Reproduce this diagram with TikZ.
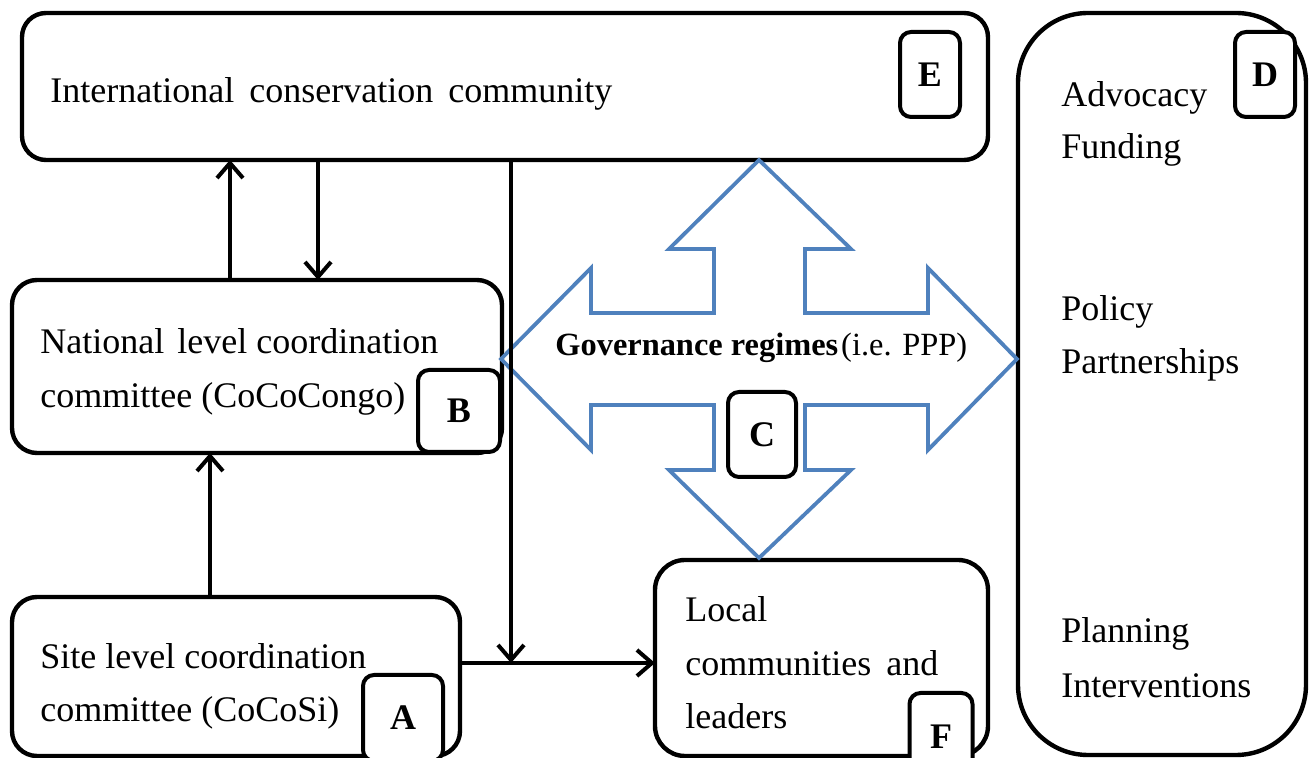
\documentclass[tikz,border=0pt]{standalone}
\usepackage{fontspec}
\setmainfont{Liberation Serif}
\usetikzlibrary{arrows.meta}
\definecolor{govblue}{HTML}{4F81BD}
\begin{document}
\begin{tikzpicture}[x=0.5pt,y=-0.5pt,
  box/.style={draw=black, line width=2.2pt, fill=white, inner sep=0pt, outer sep=0pt},
  tag/.style={draw=black, line width=2pt, fill=white, rounded corners=5.5pt, inner sep=0pt, outer sep=0pt,
    font=\fontsize{18}{20}\selectfont\bfseries, text depth=0pt},
  txt/.style={anchor=base west, inner sep=0pt, font=\fontsize{18}{27}\selectfont},
  conn/.style={line width=2pt, -{Straight Barb[length=7.5pt,width=13pt]}},
  govarrow/.style={draw=govblue, line width=1.9pt, line join=miter}]
\useasboundingbox (0,0) rectangle (1314,758);
\clip (0,0) rectangle (1314,758);

% main boxes
\node[box, rounded corners=12pt, minimum width=483pt, minimum height=73.5pt] (E) at (505,86.5) {};
\node[box, rounded corners=35pt, minimum width=144pt, minimum height=371pt] (D) at (1162,384) {};
\node[box, rounded corners=12.5pt, minimum width=245pt, minimum height=86.5pt] (B) at (257,366.5) {};
\node[box, rounded corners=12.5pt, minimum width=224pt, minimum height=79.5pt] (A) at (236,676.5) {};
\node[box, rounded corners=15pt, minimum width=166.5pt, minimum height=98pt] (F) at (821.5,658) {};

% box texts
\node[txt] (Et) at (50,103) {International\hspace{3pt} conservation\hspace{3pt} community};
\node[txt] (Bt1) at (40,354) {National\hspace{2pt} level coordination};
\node[txt] (Bt2) at (40,408) {committee (CoCoCongo)};
\node[txt] (At1) at (40,669) {Site level coordination};
\node[txt] (At2) at (40,722) {committee (CoCoSi)};
\node[txt] (Ft1) at (685,622) {Local};
\node[txt] (Ft2) at (685,676) {communities\hspace{3pt} and};
\node[txt] (Ft3) at (685,729) {leaders};
\node[txt] (Dt1) at (1061,107) {Advocacy};
\node[txt] (Dt2) at (1061,159) {Funding};
\node[txt] (Dt3) at (1061,321) {Policy};
\node[txt] (Dt4) at (1061,374) {Partnerships};
\node[txt] (Dt5) at (1061,643) {Planning};
\node[txt] (Dt6) at (1061,698) {Interventions};

% governance four-way arrow
\draw[govarrow] (759,160) -- (851,249) -- (805,249) -- (805,313) -- (928,313) -- (928,268)
  -- (1017,359) -- (928,450) -- (928,405) -- (805,405) -- (805,470) -- (851,470)
  -- (759,558) -- (669,470) -- (714,470) -- (714,405) -- (591,405) -- (591,450)
  -- (501,359) -- (591,268) -- (591,313) -- (714,313) -- (714,249) -- (669,249) -- cycle;
\node[anchor=base west, inner sep=0pt, font=\fontsize{16.2}{20}\selectfont] (G) at (555,356)
  {\textbf{Governance regimes}\hspace{1.5pt}(i.e. PPP)};

% connectors
\coordinate (J) at (511,663);
\draw[conn] ([xshift=-13.5pt]B.north) -- ([xshift=-13.5pt]B.north |- E.south);
\draw[conn] ([xshift=30.5pt]B.north |- E.south) -- ([xshift=30.5pt]B.north);
\draw[conn] ([xshift=-13pt]A.north) -- ([xshift=-13pt]A.north |- B.south);
\draw[conn] (J |- E.south) -- (J);
\draw[conn] (A.east |- J) -- (F.west |- J);

% letter tags
\node[tag, minimum width=30pt, minimum height=42.5pt] (EL) at (930,74.5) {E};
\node[tag, minimum width=30pt, minimum height=42.5pt] (DL) at (1265,74.5) {D};
\node[tag, minimum width=41pt, minimum height=41pt] (BL) at (459,411) {B};
\node[tag, minimum width=40pt, minimum height=43pt] (AL) at (403,718) {A};
\node[tag, minimum width=31.5pt, minimum height=44pt] (FL) at (941,737) {F};
\node[tag, minimum width=34pt, minimum height=42.5pt] (CL) at (762,434.5) {C};
\end{tikzpicture}
\end{document}
